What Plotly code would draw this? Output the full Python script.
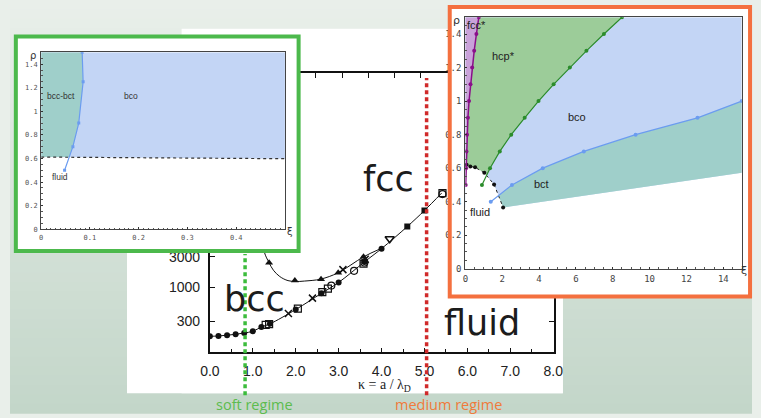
import numpy as np
import plotly.graph_objects as go

W, H = 761, 418


def px(x):
    return x / W


def py(y):
    return 1 - y / H


# ---------------- main diagram: coupling Gamma vs screening kappa ----------------
melt_kappa = [0.0, 0.2, 0.4, 0.6, 0.8, 1.0, 1.2, 1.4, 2.0, 2.6, 3.0, 3.6, 4.0, 4.6, 5.0, 5.4]
melt_gamma = [174, 176, 181, 187, 196, 208, 243, 272, 454, 812, 1200, 2500, 4030, 8900, 15800, 29500]

md_kappa = [0.0, 0.2, 0.4, 0.6, 0.8, 1.0, 1.2, 1.4, 2.0, 2.6, 3.0, 3.6, 4.0]
md_gamma = [174, 176, 181, 187, 196, 208, 243, 272, 454, 812, 1200, 2500, 4030]
sq_kappa = [4.6, 5.0]
sq_gamma = [8900, 15800]
osq_kappa = [1.3, 1.38, 2.05, 2.62, 2.75, 3.58, 5.42]
osq_gamma = [262, 270, 470, 850, 960, 2350, 29500]
ocirc_kappa = [2.83, 3.36, 3.6, 5.42]
ocirc_gamma = [1070, 1820, 2450, 28500]
cross_kappa = [1.83, 2.39, 3.1, 3.62]
cross_gamma = [394, 684, 1900, 2750]
tdn_kappa = [4.19]
tdn_gamma = [5750]

# fcc-bcc boundary
fb_kappa = [1.20, 1.27, 1.38, 1.48, 1.63, 1.82, 2.00, 2.20, 2.58, 2.99, 3.58, 3.98]
fb_gamma = [8000, 3550, 2430, 1860, 1480, 1280, 1240, 1260, 1350, 1700, 3000, 4030]
tri_kappa = [1.38, 1.98, 2.59, 2.99, 3.58]
tri_gamma = [2430, 1280, 1350, 1700, 3000]

kappa_ticks = [0, 1, 2, 3, 4, 5, 6, 7, 8]
kappa_labels = ["0.0", "1.0", "2.0", "3.0", "4.0", "5.0", "6.0", "7.0", "8.0"]
top_ticks = [2.45, 3.08, 3.70, 4.31, 4.90]
gamma_ticks = [300, 1000, 3000, 10000, 30000, 100000, 300000, 1000000]
gamma_labels = ["300", "1000", "3000", "10000", "30000", "100000", "300000", "1000000"]

regime_kappa = [0.82, 5.05]
regime_names = ["soft regime", "medium regime"]

# ---------------- soft regime inset: rho vs xi ----------------
s_xi = [0.048, 0.065, 0.077, 0.086, 0.084]
s_rho = [0.5, 0.7, 0.9, 1.25, 1.5]
s_fluid_xi = [0.0, 0.5]
s_fluid_rho = [0.612, 0.598]
s_xticks = [0, 0.1, 0.2, 0.3, 0.4]
s_xlabels = ["0", "0.1", "0.2", "0.3", "0.4"]

# ---------------- medium regime inset: rho vs xi ----------------
fcc_xi = [0.02, 0.04, 0.06, 0.09, 0.14, 0.20, 0.28, 0.37, 0.48, 0.60, 0.73]
fcc_rho = [0.5, 0.6, 0.7, 0.8, 0.9, 1.0, 1.1, 1.2, 1.3, 1.4, 1.5]
hcp_xi = [0.90, 1.34, 1.87, 2.49, 3.22, 3.97, 4.79, 5.67, 6.57, 7.52, 8.50]
hcp_rho = [0.5, 0.6, 0.7, 0.8, 0.9, 1.0, 1.1, 1.2, 1.3, 1.4, 1.5]
bct_xi = [1.38, 2.53, 4.20, 6.43, 9.24, 12.6, 15.0]
bct_rho = [0.4, 0.5, 0.6, 0.7, 0.8, 0.9, 1.0]
fl_xi = [0.07, 0.27, 0.53, 1.03, 1.56, 2.05]
fl_rho = [0.62, 0.61, 0.605, 0.572, 0.503, 0.366]
bct_low_xi = [2.05, 15.0]
bct_low_rho = [0.366, 0.572]
m_xticks = [0, 2, 4, 6, 8, 10, 12, 14]

rho_ticks = [0, 0.2, 0.4, 0.6, 0.8, 1.0, 1.2, 1.4]
rho_labels = ["0", "0.2", "0.4", "0.6", "0.8", "1", "1.2", "1.4"]

C_TEAL = "#9fcfca"
C_BLUE = "#c3d5f5"
C_GREEN = "#9ccc99"
C_PURPLE = "#c9a2d9"
L_BLUE = "#6b9cf0"
L_GREEN = "#2b8c2b"
L_PURPLE = "#8a0f8a"
FRAME_GREEN = "#4cb94c"
FRAME_ORANGE = "#f4703f"

fig = go.Figure()

# main diagram
fig.add_trace(go.Scatter(x=melt_kappa, y=melt_gamma, mode="lines", line=dict(color="#111", width=1, shape="spline"),
                         xaxis="x", yaxis="y", hoverinfo="skip"))
fig.add_trace(go.Scatter(x=fb_kappa, y=fb_gamma, mode="lines", line=dict(color="#111", width=1, shape="spline"),
                         xaxis="x", yaxis="y", hoverinfo="skip"))
fig.add_trace(go.Scatter(x=md_kappa, y=md_gamma, mode="markers", marker=dict(symbol="circle", size=6, color="#111"),
                         xaxis="x", yaxis="y"))
fig.add_trace(go.Scatter(x=sq_kappa, y=sq_gamma, mode="markers", marker=dict(symbol="square", size=6, color="#111"),
                         xaxis="x", yaxis="y"))
fig.add_trace(go.Scatter(x=osq_kappa, y=osq_gamma, mode="markers",
                         marker=dict(symbol="square-open", size=7, color="#111", line=dict(width=1.2)),
                         xaxis="x", yaxis="y"))
fig.add_trace(go.Scatter(x=ocirc_kappa, y=ocirc_gamma, mode="markers",
                         marker=dict(symbol="circle-open", size=7, color="#111", line=dict(width=1.2)),
                         xaxis="x", yaxis="y"))
fig.add_trace(go.Scatter(x=cross_kappa, y=cross_gamma, mode="markers",
                         marker=dict(symbol="x-thin-open", size=7, color="#111", line=dict(width=1.5)),
                         xaxis="x", yaxis="y"))
fig.add_trace(go.Scatter(x=tri_kappa, y=tri_gamma, mode="markers", marker=dict(symbol="triangle-up", size=7, color="#111"),
                         xaxis="x", yaxis="y"))
fig.add_trace(go.Scatter(x=tdn_kappa, y=tdn_gamma, mode="markers",
                         marker=dict(symbol="triangle-down-open", size=8, color="#111", line=dict(width=1.6)),
                         xaxis="x", yaxis="y"))
# top tick axis
fig.add_trace(go.Scatter(x=[], y=[], xaxis="x6", yaxis="y", hoverinfo="skip"))

# soft-regime panel backing
fig.add_trace(go.Scatter(x=[], y=[], xaxis="x2", yaxis="y2", hoverinfo="skip"))

# soft-regime inset
s_top = [1.5, 1.5]
fig.add_trace(go.Scatter(x=s_fluid_xi + s_fluid_xi[::-1], y=s_fluid_rho + s_top, fill="toself", fillcolor=C_BLUE,
                         mode="lines", line=dict(width=0), xaxis="x3", yaxis="y3", hoverinfo="skip"))
xi_cross = float(np.interp(s_fluid_rho[0], s_rho, s_xi))
upper = [(x, r) for x, r in zip(s_xi, s_rho) if r > s_fluid_rho[0]]
teal_x = [0.0, xi_cross] + [p[0] for p in upper] + [0.0]
teal_y = [s_fluid_rho[0], s_fluid_rho[0]] + [p[1] for p in upper] + [1.5]
fig.add_trace(go.Scatter(x=teal_x, y=teal_y, fill="toself", fillcolor=C_TEAL, mode="lines", line=dict(width=0),
                         xaxis="x3", yaxis="y3", hoverinfo="skip"))
fig.add_trace(go.Scatter(x=s_fluid_xi, y=s_fluid_rho, mode="lines", line=dict(color="#333", width=1.2, dash="dot"),
                         xaxis="x3", yaxis="y3", hoverinfo="skip"))
fig.add_trace(go.Scatter(x=s_xi, y=s_rho, mode="lines+markers", line=dict(color=L_BLUE, width=1.2),
                         marker=dict(size=3, color=L_BLUE, symbol="square"), xaxis="x3", yaxis="y3"))

# medium-regime panel backing
fig.add_trace(go.Scatter(x=[], y=[], xaxis="x4", yaxis="y4", hoverinfo="skip"))

# medium-regime inset: phase areas
fig.add_trace(go.Scatter(x=[0, 15, 15, bct_low_xi[0], 0], y=[1.5, 1.5, bct_low_rho[1], bct_low_rho[0], bct_low_rho[0]],
                         fill="toself", fillcolor=C_BLUE, mode="lines", line=dict(width=0),
                         xaxis="x5", yaxis="y5", hoverinfo="skip"))
fig.add_trace(go.Scatter(x=bct_xi + bct_low_xi[::-1], y=bct_rho + bct_low_rho[::-1], fill="toself", fillcolor=C_TEAL,
                         mode="lines", line=dict(width=0), xaxis="x5", yaxis="y5", hoverinfo="skip"))
fig.add_trace(go.Scatter(x=fcc_xi + hcp_xi[::-1], y=fcc_rho + hcp_rho[::-1], fill="toself", fillcolor=C_GREEN,
                         mode="lines", line=dict(width=0), xaxis="x5", yaxis="y5", hoverinfo="skip"))
fig.add_trace(go.Scatter(x=[0] + fcc_xi + [0], y=[fcc_rho[0]] + fcc_rho + [1.5], fill="toself", fillcolor=C_PURPLE,
                         mode="lines", line=dict(width=0), xaxis="x5", yaxis="y5", hoverinfo="skip"))
fig.add_trace(go.Scatter(x=[0] + fl_xi + [fl_xi[-1], 0], y=[fl_rho[0]] + fl_rho + [0, 0], fill="toself",
                         fillcolor="white", mode="lines", line=dict(width=0), xaxis="x5", yaxis="y5", hoverinfo="skip"))
# medium-regime inset: boundaries
fig.add_trace(go.Scatter(x=[0] + fl_xi, y=[fl_rho[0]] + fl_rho, mode="lines", line=dict(color="#222", width=1, dash="dot"),
                         xaxis="x5", yaxis="y5", hoverinfo="skip"))
fig.add_trace(go.Scatter(x=fl_xi, y=fl_rho, mode="markers", marker=dict(size=4, color="#111"), xaxis="x5", yaxis="y5"))
fig.add_trace(go.Scatter(x=fcc_xi, y=fcc_rho, mode="lines+markers", line=dict(color=L_PURPLE, width=1.5),
                         marker=dict(size=4, color=L_PURPLE), xaxis="x5", yaxis="y5"))
fig.add_trace(go.Scatter(x=hcp_xi, y=hcp_rho, mode="lines+markers", line=dict(color=L_GREEN, width=1.2),
                         marker=dict(size=4, color=L_GREEN), xaxis="x5", yaxis="y5"))
fig.add_trace(go.Scatter(x=bct_xi, y=bct_rho, mode="lines+markers", line=dict(color=L_BLUE, width=1.2),
                         marker=dict(size=4, color=L_BLUE), xaxis="x5", yaxis="y5"))

# ---------------- layout ----------------
tick_font_main = dict(family="Liberation Sans, Arial", size=14, color="#222")
mono_small = dict(family="DejaVu Sans Mono", size=7, color="#555")
mono_med = dict(family="DejaVu Sans Mono", size=9, color="#444")


def inset_axis(domain, rng, tickvals, ticktext, font, minor_dtick):
    return dict(domain=domain, range=rng, showline=True, mirror=True, linecolor="#444", linewidth=1.2,
                ticks="inside", ticklen=2, tickwidth=1, tickcolor="#333", tickvals=tickvals, ticktext=ticktext,
                tickfont=font, showgrid=False, zeroline=False, ticklabelstandoff=1,
                minor=dict(ticks="inside", ticklen=1.5, dtick=minor_dtick, tickcolor="#555"))


blank = dict(visible=False, range=[0, 1], fixedrange=True)

layout = dict(
    width=W, height=H, margin=dict(l=0, r=0, t=0, b=0),
    paper_bgcolor="#e9efea", plot_bgcolor="white", showlegend=False,
    xaxis=dict(domain=[px(205), px(558)], range=[0, 8.02], anchor="y", showline=True, mirror=True,
               linecolor="#111", linewidth=2, ticks="inside", ticklen=4, tickcolor="#111",
               tickvals=kappa_ticks, ticktext=kappa_labels, tickfont=tick_font_main, ticklabelstandoff=5,
               showgrid=False, zeroline=False,
               minor=dict(ticks="inside", ticklen=3, dtick=0.5, tickcolor="#111")),
    xaxis6=dict(overlaying="x", side="top", anchor="y", range=[0, 8.02], tickvals=top_ticks, ticks="inside",
                ticklen=5, tickcolor="#111", showticklabels=False, showline=False, showgrid=False, zeroline=False),
    yaxis=dict(domain=[py(356), py(74)], type="log", range=[2.0, 6.338], anchor="x", showline=True,
               mirror="ticks", linecolor="#111", linewidth=2, ticks="inside", ticklen=5, tickcolor="#111",
               tickvals=gamma_ticks, ticktext=gamma_labels, tickfont=tick_font_main, ticklabelstandoff=5,
               showgrid=False, zeroline=False),
    xaxis2=dict(blank, domain=[px(6), px(296)], anchor="y2"),
    yaxis2=dict(blank, domain=[py(254), py(37)], anchor="x2"),
    xaxis3=dict(inset_axis([px(32), px(282)], [0, 0.5], s_xticks, s_xlabels, mono_small, 0.01), anchor="y3"),
    yaxis3=dict(inset_axis([py(232), py(53)], [0, 1.5], rho_ticks, rho_labels, mono_small, 0.05), anchor="x3"),
    xaxis4=dict(blank, domain=[px(451), px(759)], anchor="y4"),
    yaxis4=dict(blank, domain=[py(300), py(7)], anchor="x4"),
    xaxis5=dict(inset_axis([px(467), px(750.5)], [0, 15], m_xticks, [str(v) for v in m_xticks], mono_med, 0.5),
                anchor="y5"),
    yaxis5=dict(inset_axis([py(272), py(17.5)], [0, 1.5], rho_ticks, rho_labels, mono_med, 0.05), anchor="x5"),
)

# background gradient, white page, frames and regime markers
shapes = []
top_c = np.array([233, 239, 234])
bot_c = np.array([195, 214, 201])
n_bands = 44
for i in range(n_bands):
    t = (i + 0.5) / n_bands
    c = (top_c + (bot_c - top_c) * t).round().astype(int)
    shapes.append(dict(type="rect", xref="paper", yref="paper", x0=0, x1=1,
                       y0=1 - (i + 1) / n_bands - 0.002, y1=1 - i / n_bands,
                       fillcolor=f"rgb({c[0]},{c[1]},{c[2]})", line=dict(width=0), layer="below"))
shapes.append(dict(type="rect", xref="paper", yref="paper", x0=px(176), x1=px(567), y0=py(398), y1=py(29),
                   fillcolor="white", line=dict(width=0), layer="below"))
shapes.append(dict(type="rect", xref="paper", yref="paper", x0=px(120), x1=px(567), y0=py(398), y1=py(60),
                   fillcolor="white", line=dict(width=0), layer="below"))
shapes.append(dict(type="line", xref="x", yref="paper", x0=regime_kappa[0], x1=regime_kappa[0], y0=py(400), y1=py(257),
                   line=dict(color="#3cbc3c", width=3.5, dash="4px,3px"), layer="above"))
shapes.append(dict(type="line", xref="x", yref="paper", x0=regime_kappa[1], x1=regime_kappa[1], y0=py(400), y1=py(79),
                   line=dict(color="#d02a2a", width=3.5, dash="4px,3px"), layer="above"))
shapes.append(dict(type="rect", xref="paper", yref="paper", x0=px(6), x1=px(296), y0=py(254), y1=py(37),
                   line=dict(color=FRAME_GREEN, width=4), layer="above"))
shapes.append(dict(type="rect", xref="paper", yref="paper", x0=px(451), x1=px(759), y0=py(300), y1=py(7),
                   line=dict(color=FRAME_ORANGE, width=4), layer="above"))
layout["shapes"] = shapes

big = dict(family="DejaVu Sans", size=35, color="#1c1c1c")
ann = [
    dict(text="fcc", x=px(388), y=py(181), font=big),
    dict(text="bcc", x=px(251), y=py(303), font=big),
    dict(text="fluid", x=px(484), y=py(327), font=big),
    dict(text="κ = a / λ<sub>D</sub>", x=px(384), y=py(390),
         font=dict(family="Liberation Serif, Times New Roman", size=14, color="#222")),
    dict(text=regime_names[0], x=px(251), y=py(409), font=dict(family="Open Sans", size=14.5, color="#5cbc4e")),
    dict(text=regime_names[1], x=px(450), y=py(409), font=dict(family="Open Sans", size=14.5, color="#f07a3a")),
    dict(text="ρ", x=px(24), y=py(56), font=dict(family="DejaVu Sans", size=10, color="#333")),
    dict(text="ξ", x=px(287), y=py(234), font=dict(family="DejaVu Sans", size=10, color="#333")),
    dict(text="ρ", x=px(458), y=py(21), font=dict(family="DejaVu Sans", size=11, color="#333")),
    dict(text="ξ", x=px(753), y=py(274), font=dict(family="DejaVu Sans", size=11, color="#333")),
]
for a in ann:
    a.update(xref="paper", yref="paper", showarrow=False, xanchor="center", yanchor="middle")

lab_s = dict(family="Liberation Sans, Arial", size=8.5, color="#333")
for txt, x, y in [("bcc-bct", 0.041, 1.126), ("bco", 0.185, 1.126), ("fluid", 0.039, 0.444)]:
    ann.append(dict(text=txt, x=x, y=y, xref="x3", yref="y3", showarrow=False, font=lab_s))
lab_m = dict(family="Liberation Sans, Arial", size=11, color="#222")
for txt, x, y in [("fcc*", 0.62, 1.453), ("hcp*", 2.05, 1.268), ("bco", 6.06, 0.908), ("bct", 4.12, 0.508),
                  ("fluid", 0.78, 0.341)]:
    ann.append(dict(text=txt, x=x, y=y, xref="x5", yref="y5", showarrow=False, font=lab_m))
layout["annotations"] = ann

fig.update_layout(**layout)
fig.write_html("out.html")
